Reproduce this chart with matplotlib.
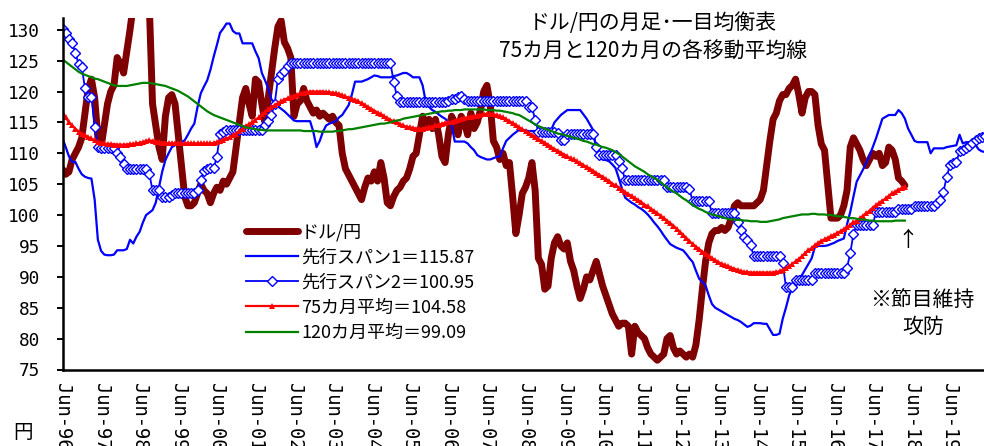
import matplotlib
matplotlib.use("Agg")
import matplotlib.pyplot as plt
import numpy as np

plt.rcParams['font.family'] = ['Noto Sans CJK JP', 'DejaVu Sans']

# monthly data, first point = Jun-96
price = [
    107.4, 106.6, 107.0, 109.0, 110.0, 111.0, 112.5, 116.5, 120.5, 122.0, 119.0, 112.5,
    111.0, 114.5, 118.0, 120.0, 121.0, 125.5, 124.5, 123.0, 126.5, 130.0, 134.0, 138.0,
    140.0, 143.0, 141.0, 134.0, 118.0, 114.5, 111.0, 109.0, 116.0, 119.0, 119.5, 118.0,
    113.0, 108.0, 103.0, 101.5, 101.5, 102.0, 103.5, 105.0, 104.0, 103.5, 102.0, 103.5,
    104.5, 104.0, 105.5, 105.0, 106.0, 107.0, 111.0, 115.0, 119.0, 120.5, 118.0, 116.0,
    122.0, 121.5, 118.0, 115.0, 119.0, 123.0, 127.0, 130.5, 131.5, 128.0, 127.0, 125.5,
    116.0, 118.0, 118.5, 120.5, 118.5, 117.5, 116.5, 117.0, 116.0, 116.5, 116.0, 115.5,
    116.0, 115.0, 114.5, 110.0, 107.5, 106.5, 105.5, 104.5, 103.5, 102.5, 104.5, 106.0,
    105.5, 107.0, 105.5, 108.5, 106.0, 102.0, 101.5, 103.0, 104.0, 104.5, 105.5, 106.0,
    107.5, 109.5, 110.0, 113.0, 116.0, 114.5, 115.5, 114.0, 115.5, 113.0, 109.5, 108.5,
    113.0, 116.0, 115.0, 113.0, 116.0, 115.0, 113.0, 116.5, 114.0, 115.0, 117.0, 120.0,
    121.0, 118.0, 112.0, 111.0, 109.0, 110.0, 108.0, 108.5, 103.0, 97.0, 100.0, 103.5,
    104.5, 106.0, 108.5, 104.0, 93.0, 92.0, 88.0, 88.5, 93.0, 95.5, 96.5, 95.0,
    94.5, 95.5, 92.5, 91.0, 88.5, 86.5, 88.0, 90.0, 89.5, 91.0, 92.5, 90.5,
    88.5, 87.0, 85.5, 84.0, 83.0, 82.0, 82.5, 82.5, 82.0, 77.5, 82.0, 81.0,
    80.5, 80.0, 78.5, 77.5, 77.0, 76.5, 77.0, 77.5, 80.0, 80.5, 78.5, 77.5,
    78.0, 77.5, 77.0, 77.5, 77.0, 79.0, 83.0, 88.0, 92.5, 95.5, 97.0, 97.5,
    97.5, 98.0, 97.5, 98.0, 99.5, 101.5, 102.0, 101.5, 101.5, 101.5, 101.5, 101.5,
    102.0, 102.5, 104.0, 108.0, 112.0, 115.5, 116.5, 118.5, 119.5, 119.5, 120.5, 121.0,
    122.0, 119.5, 116.5, 119.0, 120.0, 120.0, 119.5, 114.5, 111.5, 110.5, 105.0, 99.5,
    99.5, 99.5, 100.0, 101.5, 104.0, 111.0, 112.5, 111.5, 110.5, 109.0, 108.0, 109.0,
    110.0, 109.5, 110.0, 108.0, 108.5, 111.0, 110.5, 109.0, 106.0, 105.5, 104.8,
]

span1 = [
    112.4, 111.0, 109.5, 108.6, 108.6, 107.5, 106.6, 106.2, 106.0, 105.9, 102.5, 96.0,
    94.2, 93.6, 93.5, 93.5, 93.6, 94.3, 94.3, 94.3, 94.5, 96.0, 95.4, 96.5,
    97.3, 98.8, 100.0, 100.4, 100.8, 102.0, 104.5, 107.0, 108.9, 110.0, 111.0, 111.3,
    111.5, 111.8, 112.1, 113.0, 114.0, 114.8, 117.5, 119.7, 120.8, 121.8, 123.5, 125.6,
    127.5, 129.5, 130.2, 131.0, 131.0, 129.8, 129.4, 129.4, 127.8, 127.8, 127.8, 127.8,
    126.5, 125.4, 123.0, 121.8, 120.5, 118.7, 118.2, 117.6, 117.2, 116.8, 116.3, 115.8,
    115.3, 115.2, 115.2, 115.2, 115.2, 115.2, 113.5, 111.0, 112.0, 113.5, 114.5, 114.8,
    115.0, 115.2, 115.8, 116.2, 117.0, 117.8, 119.5, 121.6, 121.6, 121.6, 121.8, 122.0,
    122.3, 122.6, 122.5, 122.3, 122.3, 122.3, 122.3, 122.5, 122.6, 122.8, 123.0, 123.0,
    122.7, 122.3, 122.3, 122.3, 121.0, 118.3, 117.5, 117.0, 116.7, 116.3, 115.9, 115.6,
    115.1, 114.6, 111.9, 111.9, 111.9, 111.9, 111.6, 111.0, 110.5, 109.7, 109.4, 109.2,
    109.0, 109.0, 109.2, 109.4, 109.5, 110.8, 112.0, 112.5, 113.0, 113.4, 113.8, 113.7,
    113.7, 113.6, 113.6, 113.6, 113.5, 113.4, 113.3, 113.2, 113.8, 115.0, 115.6, 116.2,
    116.6, 117.0, 117.0, 117.0, 117.0, 117.0, 116.3, 115.6, 114.7, 113.8, 110.8, 109.2,
    109.0, 108.9, 108.7, 108.2, 107.6, 106.0, 104.3, 102.8, 102.4, 102.0, 101.7, 101.3,
    101.0, 100.6, 100.1, 99.5, 98.8, 98.2, 97.5, 96.7, 96.0, 95.3, 95.0, 94.7,
    94.5, 94.3, 93.7, 93.0, 92.4, 91.0, 89.7, 89.2, 88.6, 87.0, 85.6, 85.0,
    84.7, 84.4, 84.1, 83.8, 83.5, 83.2, 83.0, 82.7, 82.3, 81.9, 82.1, 82.5,
    82.5, 82.5, 82.4, 82.4, 81.5, 80.6, 80.6, 80.8, 83.2, 85.0, 87.0, 88.2,
    89.2, 89.7, 90.3, 91.2, 92.1, 93.0, 94.8, 95.0, 95.0, 95.0, 95.1, 95.3,
    95.5, 95.8, 96.0, 96.2, 98.5, 100.5, 103.0, 105.4, 106.4, 107.4, 108.5, 109.6,
    111.0, 112.4, 114.0, 115.6, 115.9, 116.2, 116.2, 116.2, 117.0, 116.5, 115.6, 114.0,
    113.0, 112.0, 111.8, 111.8, 111.8, 111.8, 110.0, 110.8, 110.8, 110.8, 110.8, 111.0,
    111.1, 111.2, 111.3, 113.0, 111.6, 111.8, 111.8, 111.6, 111.3, 110.6, 110.3, 110.2,
]

span2 = [
    130.2, 129.5, 128.5, 127.8, 126.3, 124.4, 123.9, 120.5, 119.1, 119.1, 114.3, 111.0,
    110.8, 110.8, 110.8, 110.8, 110.8, 110.0, 109.4, 108.3, 107.4, 107.4, 107.4, 107.4,
    107.4, 107.4, 107.4, 106.7, 104.0, 104.0, 104.0, 102.9, 102.9, 102.9, 103.3, 103.5,
    103.5, 103.5, 103.5, 103.5, 103.5, 103.5, 104.0, 105.7, 107.1, 107.4, 107.6, 107.6,
    109.4, 113.2, 113.5, 113.7, 113.7, 113.7, 113.7, 113.7, 113.7, 113.7, 113.7, 113.7,
    113.7, 113.7, 113.7, 114.5, 115.2, 116.2, 118.0, 122.1, 122.8, 123.4, 124.2, 124.6,
    124.6, 124.6, 124.6, 124.6, 124.6, 124.6, 124.6, 124.6, 124.6, 124.6, 124.6, 124.6,
    124.6, 124.6, 124.6, 124.6, 124.6, 124.6, 124.6, 124.6, 124.6, 124.6, 124.6, 124.6,
    124.6, 124.6, 124.6, 124.6, 124.6, 124.6, 124.6, 121.6, 119.2, 118.3, 118.3, 118.3,
    118.3, 118.3, 118.3, 118.3, 118.3, 118.3, 118.3, 118.3, 118.3, 118.3, 118.3, 118.3,
    118.5, 118.8, 118.8, 119.1, 119.3, 118.8, 118.4, 118.4, 118.4, 118.4, 118.4, 118.4,
    118.4, 118.4, 118.4, 118.4, 118.4, 118.4, 118.4, 118.4, 118.4, 118.4, 118.4, 118.4,
    118.4, 117.5, 117.5, 115.4, 113.5, 113.5, 113.5, 113.5, 113.5, 113.5, 113.3, 112.2,
    112.2, 113.1, 113.1, 113.1, 113.1, 113.1, 113.1, 113.1, 113.1, 113.1, 111.0, 109.8,
    109.8, 109.8, 109.8, 109.8, 109.8, 108.7, 107.6, 105.6, 105.6, 105.6, 105.6, 105.6,
    105.6, 105.6, 105.6, 105.6, 105.6, 105.6, 105.6, 105.6, 104.6, 104.6, 104.6, 104.6,
    104.6, 104.6, 104.6, 104.2, 102.2, 102.2, 102.2, 102.2, 102.2, 102.2, 100.3, 100.3,
    100.3, 100.3, 100.3, 100.3, 100.3, 100.3, 98.9, 97.6, 96.5, 96.0, 95.2, 93.3,
    93.3, 93.3, 93.3, 93.3, 93.3, 93.3, 93.3, 93.3, 92.2, 88.4, 88.4, 88.4,
    89.5, 89.5, 89.5, 89.5, 89.5, 89.5, 90.6, 90.6, 90.6, 90.6, 90.6, 90.6,
    90.6, 90.6, 90.6, 90.6, 91.5, 93.8, 97.0, 98.4, 98.4, 98.4, 98.4, 98.4,
    98.4, 100.5, 100.5, 100.5, 100.5, 100.5, 100.5, 100.5, 101.0, 101.0, 101.0, 101.0,
    101.0, 101.5, 101.5, 101.5, 101.5, 101.5, 101.5, 101.5, 102.0, 102.5, 103.8, 106.2,
    108.1, 108.4, 108.6, 110.3, 110.5, 110.8, 111.2, 111.6, 112.2, 112.4, 112.6, 112.8,
]

ma75 = [
    116.5, 115.8, 115.0, 114.5, 114.0, 113.5, 113.2, 112.9, 112.6, 112.4, 112.1, 111.8,
    111.7, 111.6, 111.5, 111.5, 111.4, 111.4, 111.4, 111.4, 111.4, 111.5, 111.5, 111.6,
    111.7, 111.8, 112.0, 112.1, 112.0, 111.9, 111.8, 111.7, 111.7, 111.6, 111.6, 111.6,
    111.6, 111.6, 111.6, 111.6, 111.6, 111.6, 111.6, 111.6, 111.6, 111.6, 111.6, 111.7,
    111.8, 112.0, 112.2, 112.4, 112.6, 112.9, 113.2, 113.6, 114.0, 114.4, 114.7, 115.0,
    115.4, 115.8, 116.3, 116.7, 117.1, 117.5, 117.8, 118.1, 118.4, 118.7, 118.9, 119.1,
    119.3, 119.5, 119.7, 119.8, 119.9, 120.0, 120.0, 120.0, 120.0, 120.0, 119.9, 119.9,
    119.8, 119.7, 119.6, 119.4, 119.2, 119.0, 118.8, 118.6, 118.4, 118.1, 117.8, 117.5,
    117.2, 116.9, 116.6, 116.3, 116.0, 115.7, 115.4, 115.2, 115.0, 114.7, 114.5, 114.3,
    114.2, 114.1, 114.0, 113.9, 114.0, 114.1, 114.2, 114.3, 114.5, 114.6, 114.8, 114.9,
    115.0, 115.1, 115.3, 115.4, 115.6, 115.7, 115.8, 115.9, 116.0, 116.1, 116.2, 116.3,
    116.4, 116.4, 116.3, 116.2, 116.0, 115.8, 115.5, 115.2, 114.9, 114.6, 114.2, 113.9,
    113.6, 113.3, 113.0, 112.7, 112.3, 112.0, 111.7, 111.4, 111.0, 110.7, 110.4, 110.1,
    109.8, 109.5, 109.2, 109.0, 108.7, 108.4, 108.1, 107.8, 107.5, 107.2, 106.8, 106.5,
    106.2, 105.8, 105.5, 105.1, 104.8, 104.4, 104.1, 103.7, 103.4, 103.1, 102.7, 102.4,
    102.1, 101.7, 101.4, 101.0, 100.7, 100.3, 99.9, 99.5, 99.1, 98.7, 98.3, 97.8,
    97.3, 96.8, 96.3, 95.8, 95.3, 94.9, 94.5, 94.1, 93.7, 93.4, 93.0, 92.7,
    92.4, 92.1, 91.9, 91.7, 91.5, 91.3, 91.1, 90.9, 90.8, 90.8, 90.7, 90.7,
    90.7, 90.7, 90.7, 90.7, 90.7, 90.7, 90.8, 90.9, 91.1, 91.4, 91.7, 92.1,
    92.5, 92.9, 93.3, 93.8, 94.3, 94.7, 95.1, 95.5, 95.8, 96.1, 96.3, 96.6,
    96.8, 97.1, 97.4, 97.7, 98.0, 98.4, 98.8, 99.1, 99.5, 99.9, 100.3, 100.7,
    101.2, 101.6, 102.0, 102.3, 102.7, 103.1, 103.5, 103.8, 104.1, 104.4, 104.6,
]

ma120 = [
    125.2, 124.8, 124.4, 124.0, 123.6, 123.2, 122.9, 122.7, 122.5, 122.3, 122.1, 122.0,
    121.8, 121.6, 121.4, 121.2, 121.0, 120.9, 120.9, 120.9, 120.9, 121.0, 121.1, 121.2,
    121.3, 121.4, 121.4, 121.4, 121.3, 121.2, 121.1, 121.0, 120.9, 120.7, 120.5, 120.3,
    120.1, 119.8, 119.5, 119.2, 118.8, 118.4, 118.0, 117.6, 117.2, 116.8, 116.5, 116.2,
    116.0, 115.8, 115.6, 115.4, 115.2, 115.0, 114.8, 114.6, 114.4, 114.2, 114.1, 114.0,
    113.9, 113.8, 113.8, 113.7, 113.7, 113.7, 113.7, 113.7, 113.7, 113.7, 113.7, 113.7,
    113.7, 113.7, 113.7, 113.6, 113.6, 113.6, 113.6, 113.6, 113.5, 113.5, 113.5, 113.5,
    113.5, 113.6, 113.6, 113.7, 113.8, 113.9, 113.9, 114.0, 114.1, 114.2, 114.3, 114.4,
    114.5, 114.6, 114.7, 114.8, 114.8, 114.9, 115.0, 115.2, 115.3, 115.4, 115.6, 115.7,
    115.8, 115.9, 116.0, 116.1, 116.2, 116.3, 116.4, 116.5, 116.6, 116.7, 116.8, 116.8,
    116.9, 116.9, 117.0, 117.0, 117.0, 117.1, 117.1, 117.1, 117.1, 117.1, 117.1, 117.1,
    117.0, 117.0, 117.0, 116.9, 116.9, 116.8, 116.7, 116.6, 116.5, 116.3, 116.2, 115.9,
    115.6, 115.3, 115.0, 114.7, 114.4, 114.2, 114.0, 113.8, 113.6, 113.4, 113.2, 113.1,
    113.0, 112.8, 112.7, 112.5, 112.4, 112.2, 112.0, 111.9, 111.7, 111.5, 111.4, 111.2,
    111.0, 110.9, 110.7, 110.5, 110.2, 109.9, 109.5, 109.1, 108.7, 108.3, 107.9, 107.6,
    107.3, 107.0, 106.6, 106.3, 106.0, 105.7, 105.3, 104.9, 104.5, 104.1, 103.8, 103.5,
    103.1, 102.7, 102.4, 102.0, 101.6, 101.3, 101.0, 100.8, 100.5, 100.3, 100.1, 100.0,
    99.8, 99.7, 99.5, 99.4, 99.3, 99.3, 99.2, 99.2, 99.1, 99.1, 99.0, 99.0,
    99.0, 98.9, 98.9, 98.9, 99.0, 99.1, 99.2, 99.3, 99.5, 99.6, 99.7, 99.8,
    99.9, 100.0, 100.1, 100.1, 100.1, 100.2, 100.2, 100.1, 100.1, 100.1, 100.0, 100.0,
    99.9, 99.8, 99.8, 99.7, 99.6, 99.5, 99.5, 99.4, 99.3, 99.3, 99.2, 99.1,
    99.1, 99.0, 99.0, 99.0, 99.0, 99.0, 99.0, 99.1, 99.1, 99.1, 99.1,
]

labels = ['ドル/円', '先行スパン1＝115.87', '先行スパン2＝100.95',
          '75カ月平均＝104.58', '120カ月平均＝99.09']
tick_labels = ['Jun-%02d' % (y % 100) for y in range(1996, 2020)]
yticks = list(range(75, 131, 5))

W, H = 984, 446
fig = plt.figure(figsize=(W / 100, H / 100), dpi=100)
ax = fig.add_axes([62.5 / W, (H - 369.5) / H, (W - 62.5) / W, (369.5 - 18) / H])

ax.plot(np.arange(len(price)), price, color='#7f0000', lw=5.0,
        solid_joinstyle='round', solid_capstyle='round', label=labels[0])
ax.plot(np.arange(len(span1)), span1, color='#0000ff', lw=1.6, label=labels[1])
ax.plot(np.arange(len(span2)), span2, color='#0000ff', lw=1.3, marker='D',
        markersize=5, markerfacecolor='white', markeredgecolor='#0000ff',
        markeredgewidth=1.0, label=labels[2])
ax.plot(np.arange(len(ma75)), ma75, color='#ff0000', lw=1.6, marker='^',
        markersize=5, markeredgewidth=0, label=labels[3])
ax.plot(np.arange(len(ma120)), ma120, color='#008000', lw=1.6, label=labels[4])

ax.set_xlim(0, 286.6)
ax.set_ylim(75, 131.9)

for s in ['top', 'right']:
    ax.spines[s].set_visible(False)
for s in ['left', 'bottom']:
    ax.spines[s].set_linewidth(1.8)

ax.set_yticks(yticks)
ax.set_yticklabels([str(v) for v in yticks], family='DejaVu Sans Mono', fontsize=12.8)
ax.tick_params(axis='y', direction='out', length=4.3, width=1.4, pad=12)

ax.set_xticks([12 * i for i in range(len(tick_labels))])
ax.set_xticklabels(tick_labels, rotation=-90, family='DejaVu Sans Mono', fontsize=13.5)
ax.tick_params(axis='x', length=0, pad=9.5)

leg = ax.legend(loc='upper left', bbox_to_anchor=(237 / W, 1 - 214 / H),
                bbox_transform=fig.transFigure, frameon=False, fontsize=13,
                handlelength=2.9, handletextpad=0.15, labelspacing=0.4,
                borderpad=0, numpoints=1)

fig.text(653 / W, 1 - 23 / H, 'ドル/円の月足･一目均衡表', ha='center', va='center', fontsize=15)
fig.text(653 / W, 1 - 51 / H, '75カ月と120カ月の各移動平均線', ha='center', va='center', fontsize=15)
fig.text(908 / W, 1 - 240 / H, '↑', ha='center', va='center', fontsize=15)
fig.text(922 / W, 1 - 300 / H, '※節目維持', ha='center', va='center', fontsize=15)
fig.text(923 / W, 1 - 327 / H, '攻防', ha='center', va='center', fontsize=15)
fig.text(23 / W, 1 - 433 / H, '円', ha='center', va='center', fontsize=14)

fig.savefig('out.png', dpi=100)
